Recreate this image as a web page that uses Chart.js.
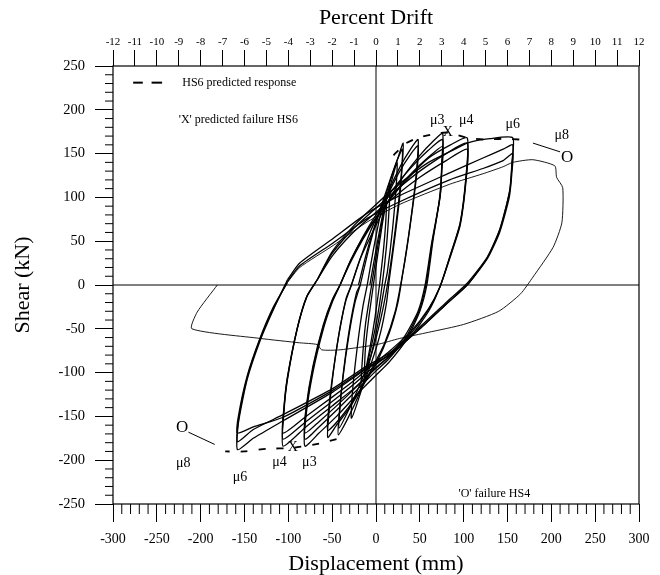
<!DOCTYPE html>
<html>
<head>
<meta charset="utf-8">
<script src="https://cdn.jsdelivr.net/npm/chart.js"></script>
<style>
  html, body { margin: 0; padding: 0; background: #fff; }
</style>
</head>
<body>
<canvas id="hysChart" width="660" height="575"></canvas>
<script>
// axis ticks
const dispTicks = [-300, -250, -200, -150, -100, -50, 0, 50, 100, 150, 200, 250, 300];
const shearTicks = [-250, -200, -150, -100, -50, 0, 50, 100, 150, 200, 250];
const driftTicks = [-12, -11, -10, -9, -8, -7, -6, -5, -4, -3, -2, -1, 0, 1, 2, 3, 4, 5, 6, 7, 8, 9, 10, 11, 12];

// measured loops, [displacement mm, shear kN]
const loopA1 = [[-3,0],[2,35],[7,68],[12,95],[11,70],[8,35],[4,0],[-1,-36],[-7,-72],[-13,-100],[-12,-72],[-8,-36],[-3,0]];
const loopA2 = [[-5,0],[1,38],[8,78],[16,115],[15,88],[12,45],[7,0],[1,-40],[-8,-82],[-17,-120],[-16,-92],[-12,-45],[-5,0]];
const loopA3 = [[-7,0],[0,40],[8,82],[16,112],[24,140],[23,112],[19,65],[13,15],[10,0],[3,-40],[-6,-82],[-16,-118],[-28,-152],[-27,-124],[-22,-76],[-15,-25],[-10,0]];
const loopB1 = [[-10,0],[-3,40],[5,80],[14,112],[24,142],[31,162],[30,138],[27,100],[21,50],[15,5],[12,-20],[5,-55],[-5,-88],[-18,-122],[-32,-152],[-43,-171],[-42,-148],[-38,-108],[-31,-58],[-24,-20],[-18,0]];
const loopB2 = [[-18,0],[-9,38],[2,78],[14,114],[24,142],[30,155],[29,128],[25,88],[19,40],[13,0],[6,-36],[-4,-75],[-16,-108],[-30,-140],[-42,-163],[-41,-138],[-37,-98],[-30,-48],[-22,-8],[-18,0]];
const loopC1 = [[-20,0],[-12,32],[-2,66],[12,102],[28,136],[40,156],[48,166],[47,140],[43,100],[37,55],[30,10],[25,-20],[15,-55],[0,-90],[-15,-115],[-30,-140],[-45,-160],[-55,-174],[-54,-150],[-50,-110],[-43,-60],[-35,-20],[-28,0]];
const loopC2 = [[-28,0],[-18,30],[-6,62],[10,96],[26,128],[40,150],[48,159],[47,132],[42,90],[35,40],[29,5],[22,-30],[10,-66],[-5,-96],[-22,-126],[-40,-151],[-55,-166],[-54,-142],[-49,-100],[-42,-55],[-34,-15],[-28,0]];
const loopD1 = [[-28,0],[-18,30],[-4,60],[12,92],[30,122],[50,148],[64,163],[76,173],[75,140],[74,108],[65,51],[58,0],[50,-30],[35,-62],[15,-88],[0,-103],[-20,-123],[-45,-150],[-65,-169],[-81,-184],[-80,-151],[-72,-100],[-60,-50],[-50,-20],[-41,0]];
const loopD2 = [[-41,0],[-30,26],[-15,55],[0,80],[20,110],[40,134],[60,154],[76,166],[75,135],[73,100],[64,48],[57,0],[49,-30],[34,-60],[14,-85],[0,-98],[-20,-118],[-45,-143],[-65,-162],[-81,-176],[-80,-146],[-72,-96],[-60,-47],[-50,-18],[-41,0]];
const loopD3 = [[-41,0],[-30,24],[-15,52],[0,76],[20,104],[40,127],[60,146],[76,158],[75,130],[72,95],[63,45],[56,0],[48,-30],[33,-58],[14,-82],[0,-94],[-20,-114],[-45,-138],[-65,-156],[-81,-169],[-80,-142],[-72,-93],[-60,-45],[-50,-17],[-41,0]];
const loopE1 = [[-41,0],[-28,30],[-10,62],[10,90],[35,120],[60,145],[85,160],[104,168],[103,128],[96,71],[84,32],[73,-2],[60,-30],[40,-58],[15,-82],[0,-95],[-25,-118],[-50,-138],[-80,-162],[-106,-184],[-105,-145],[-101,-108],[-90,-51],[-79,-14],[-67,6]];
const loopE2 = [[-67,6],[-50,36],[-25,65],[0,88],[25,110],[50,130],[80,150],[104,162],[103,125],[96,70],[84,31],[73,-2],[60,-28],[40,-55],[15,-79],[0,-91],[-25,-113],[-50,-133],[-80,-156],[-106,-176],[-105,-142],[-101,-106],[-90,-50],[-79,-13],[-67,6]];
const loopE3 = [[-67,6],[-50,33],[-25,61],[0,83],[25,104],[50,123],[80,142],[104,155],[103,122],[96,68],[84,30],[73,-2],[60,-27],[40,-53],[15,-76],[0,-88],[-25,-109],[-50,-128],[-80,-150],[-106,-169],[-105,-140],[-101,-105],[-90,-50],[-79,-13],[-67,6]];
const loopF1 = [[-67,6],[-50,38],[-25,68],[0,92],[30,118],[60,140],[90,155],[104,162],[130,167],[156,168],[155,140],[153,110],[142,65],[128,33],[106,2],[80,-22],[50,-50],[15,-80],[-10,-95],[-49,-122],[-106,-155],[-140,-175],[-158,-188],[-157,-158],[-147,-108],[-132,-63],[-117,-28],[-101,6]];
const loopF2 = [[-101,6],[-87,25],[-49,53],[-10,82],[27,102],[84,128],[122,145],[145,155],[156,160],[155,135],[152,105],[141,63],[127,32],[104,2],[80,-20],[50,-48],[15,-78],[-10,-92],[-49,-118],[-106,-148],[-140,-165],[-158,-179],[-157,-155],[-147,-106],[-132,-61],[-117,-27],[-101,4]];
const loopF3 = [[-101,4],[-87,22],[-49,48],[-10,76],[27,95],[84,120],[122,133],[145,142],[156,150],[155,128],[152,100],[141,60],[127,30],[104,0],[80,-22],[50,-50],[15,-80],[-10,-94],[-49,-120],[-106,-151],[-140,-162],[-158,-169],[-157,-150],[-147,-104],[-132,-60],[-117,-25],[-101,3]];
// last cycle out to failure
const finalCycle = [[-101,3],[-87,20],[-49,45],[-10,72],[27,92],[84,115],[122,127],[145,135],[156,140],[179,143],[204,136],[206,123],[213,111],[212,71],[202,43],[179,9],[165,-10],[140,-30],[100,-45],[60,-54],[27,-61],[1,-68],[-41,-74],[-62,-74],[-67,-68],[-87,-66],[-132,-61],[-210,-50],[-204,-31],[-181,0]];

// HS6 predicted envelope (dashed)
const predPos = [[20,148],[33,161],[48,168],[70,173],[82,174],[104,168],[125,166],[145,167],[165,166]];
const predNeg = [[-45,-176],[-65,-181],[-95,-186],[-125,-187],[-150,-190],[-172,-190]];
const legendDash = [[-277,231],[-266,231],[-256,231],[-244,231]];

// leaders to the 'O' marks
const leaderPos = [[179,162],[210,152]];
const leaderNeg = [[-214,-168],[-184,-182]];

// annotations [text, x, y]
const muLabels = [['μ3',70,188],['μ4',103,188],['μ6',156,183],['μ8',212,171],
                  ['μ8',-220,-204],['μ6',-155,-219],['μ4',-110,-203],['μ3',-76,-202]];
const failMarks = [['X',82,174],['X',-95,-185],['O',218,146],['O',-221,-163]];
const notes = [['HS6 predicted response',-221,231,'left'],
               ["'X' predicted failure HS6",-157,188,'center'],
               ["'O' failure HS4",135,-238,'center']];

const SERIF = '"Liberation Serif", "DejaVu Serif", serif';
const toPts = arr => arr.map(([x, y]) => ({x, y}));

const cycles = [loopA1, loopA2, loopA3, loopB1, loopB2, loopC1, loopC2,
  loopD1, loopD2, loopD3, loopE1, loopE2, loopE3, loopF1, loopF2, loopF3];

const datasets = cycles.map(c => ({
  data: toPts(c), borderColor: '#000', borderWidth: 1.3, tension: 0.2,
  pointRadius: 0, showLine: true, fill: false,
}));
datasets.push({data: toPts(finalCycle), borderColor: '#000', borderWidth: 0.9, tension: 0.2, pointRadius: 0, showLine: true});
[predPos, predNeg].forEach(p => datasets.push({
  data: toPts(p), borderColor: '#000', borderWidth: 1.8, borderDash: [7, 11],
  tension: 0.2, pointRadius: 0, showLine: true,
}));
datasets.push({data: toPts(legendDash.slice(0, 2)), borderColor: '#000', borderWidth: 2, pointRadius: 0, showLine: true});
datasets.push({data: toPts(legendDash.slice(2)), borderColor: '#000', borderWidth: 2, pointRadius: 0, showLine: true});
[leaderPos, leaderNeg].forEach(l => datasets.push({data: toPts(l), borderColor: '#000', borderWidth: 1, pointRadius: 0, showLine: true}));

// frame, zero lines, minor ticks and text notes
const framePlugin = {
  id: 'framePlugin',
  afterDatasetsDraw(chart) {
    const {ctx, chartArea: a, scales: {x, y}} = chart;
    ctx.save();
    ctx.strokeStyle = '#000';
    ctx.lineWidth = 1.2;
    ctx.strokeRect(a.left, a.top, a.right - a.left, a.bottom - a.top);
    const x0 = x.getPixelForValue(0), y0 = y.getPixelForValue(0);
    ctx.lineWidth = 1;
    ctx.beginPath();
    ctx.moveTo(a.left, y0); ctx.lineTo(a.right, y0);
    ctx.moveTo(x0, a.top); ctx.lineTo(x0, a.bottom);
    ctx.stroke();

    ctx.beginPath();
    for (let v = -300; v <= 300; v += 10) {
      if (v % 50 === 0) continue;
      const px = x.getPixelForValue(v);
      ctx.moveTo(px, a.bottom); ctx.lineTo(px, a.bottom + 10);
    }
    for (let v = -250; v <= 250; v += 10) {
      if (v % 50 === 0) continue;
      const py = y.getPixelForValue(v);
      ctx.moveTo(a.left - 8, py); ctx.lineTo(a.left, py);
    }
    ctx.stroke();

    ctx.fillStyle = '#000';
    ctx.textBaseline = 'middle';
    ctx.textAlign = 'center';
    ctx.font = '14px ' + SERIF;
    muLabels.forEach(([t, vx, vy]) => ctx.fillText(t, x.getPixelForValue(vx), y.getPixelForValue(vy)));
    failMarks.forEach(([t, vx, vy]) => {
      ctx.font = (t === 'O' ? '17px ' : '14px ') + SERIF;
      ctx.fillText(t, x.getPixelForValue(vx), y.getPixelForValue(vy));
    });
    ctx.font = '12px ' + SERIF;
    notes.forEach(([t, vx, vy, al]) => {
      ctx.textAlign = al;
      ctx.fillText(t, x.getPixelForValue(vx), y.getPixelForValue(vy));
    });
    ctx.restore();
  }
};

new Chart(document.getElementById('hysChart'), {
  type: 'scatter',
  data: {datasets},
  options: {
    responsive: false,
    animation: false,
    devicePixelRatio: 1,
    layout: {padding: {left: 0, right: 21, top: 0, bottom: 0}},
    plugins: {legend: {display: false}, tooltip: {enabled: false}},
    scales: {
      x: {
        type: 'linear', position: 'bottom', min: -300, max: 300,
        afterBuildTicks: s => { s.ticks = dispTicks.map(v => ({value: v})); },
        afterFit: s => { s.height = 71; },
        border: {display: false},
        grid: {drawOnChartArea: false, tickLength: 18, color: '#000', lineWidth: 1},
        ticks: {color: '#000', font: {family: SERIF, size: 14}, padding: 9, maxRotation: 0, autoSkip: false},
        title: {display: true, text: 'Displacement (mm)', color: '#000',
                font: {family: SERIF, size: 22, lineHeight: 1}, padding: {top: 0, bottom: 0}},
      },
      drift: {
        type: 'linear', axis: 'x', position: 'top', min: -12, max: 12,
        afterBuildTicks: s => { s.ticks = driftTicks.map(v => ({value: v})); },
        afterFit: s => { s.height = 66; },
        border: {display: false},
        grid: {drawOnChartArea: false, tickLength: 16, color: '#000', lineWidth: 1},
        ticks: {color: '#000', font: {family: SERIF, size: 11}, padding: 1, maxRotation: 0, autoSkip: false},
        title: {display: true, text: 'Percent Drift', color: '#000',
                font: {family: SERIF, size: 22, lineHeight: 1}, padding: {top: 7, bottom: 0}},
      },
      y: {
        type: 'linear', position: 'left', min: -250, max: 250,
        afterBuildTicks: s => { s.ticks = shearTicks.map(v => ({value: v})); },
        afterFit: s => { s.width = 113; },
        border: {display: false},
        grid: {drawOnChartArea: false, tickLength: 18, color: '#000', lineWidth: 1},
        ticks: {color: '#000', font: {family: SERIF, size: 14.5}, padding: 10},
        title: {display: true, text: 'Shear (kN)', color: '#000',
                font: {family: SERIF, size: 22, lineHeight: 1}, padding: {top: 12, bottom: 0}},
      },
    },
  },
  plugins: [framePlugin],
});
</script>
</body>
</html>
